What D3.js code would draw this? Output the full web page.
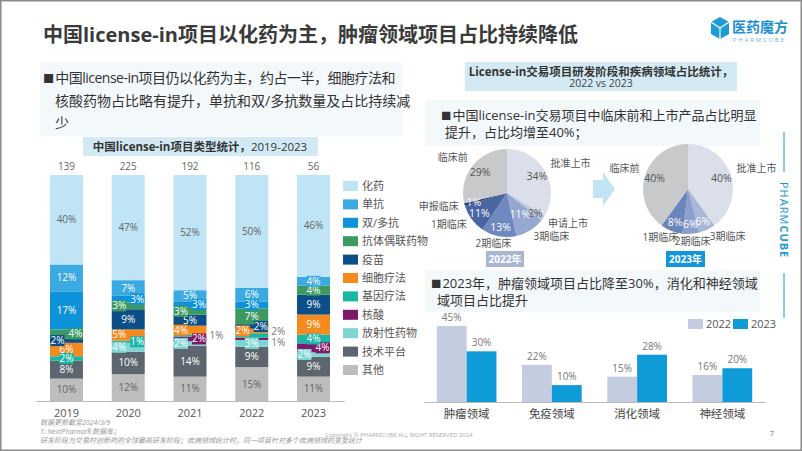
<!DOCTYPE html>
<html><head><meta charset="utf-8">
<script src="https://cdn.jsdelivr.net/npm/d3@7"></script>
<style>
body{margin:0;background:#fff}
svg{display:block}
text{font-family:"Open Sans","Noto Sans CJK SC",sans-serif}
</style></head>
<body><svg id="c" width="802" height="451"></svg>
<script>
// ---------------- DATA ----------------
const years = ["2019","2020","2021","2022","2023"];
const totals = [139,225,192,116,56];
const categories = ["化药","单抗","双/多抗","抗体偶联药物","疫苗","细胞疗法","基因疗法","核酸","放射性药物","技术平台","其他"];
const smallMolecule = [40,47,52,50,46];
const mAb          = [12,7,5,6,4];
const biMulti      = [17,3,3,3,0];
const adc          = [4,3,3,7,4];
const vaccine      = [2,9,5,2,9];
const cellTherapy  = [6,5,4,2,9];
const geneTherapy  = [2,1,1,2,4];
const nucleicAcid  = [0,0,2,1,4];
const radiopharma  = [0,4,2,3,2];
const techPlatform = [8,10,14,9,9];
const otherType    = [10,12,11,15,11];

const stages2022 = ["批准上市","申请上市","3期临床","2期临床","1期临床","申报临床","临床前"];
const values2022 = [34,2,11,13,11,1,29];
const stages2023 = ["批准上市","3期临床","2期临床","1期临床","临床前"];
const values2023 = [40,6,6,8,40];

const domains = ["肿瘤领域","免疫领域","消化领域","神经领域"];
const share2022 = [45,22,15,16];
const share2023 = [30,10,28,20];

// ---------------- STYLE / LAYOUT ----------------
const catColor = {"化药":"#BFE4F5","单抗":"#3BAAE3","双/多抗":"#0E92DA","抗体偶联药物":"#3C9A5F","疫苗":"#0C4E87",
  "细胞疗法":"#F58A1F","基因疗法":"#19B5A5","核酸":"#80186A","放射性药物":"#7ED6D3","技术平台":"#5D656E","其他":"#BDBDBD"};
const labelPlace = {
  "2019|抗体偶联药物":"r","2019|疫苗":"l",
  "2020|双/多抗":"r","2020|抗体偶联药物":"l","2020|细胞疗法":"l","2020|基因疗法":"r","2020|放射性药物":"l",
  "2021|双/多抗":"r","2021|抗体偶联药物":"l","2021|细胞疗法":"l","2021|基因疗法":"o","2021|核酸":"r","2021|放射性药物":"l",
  "2022|疫苗":"r","2022|细胞疗法":"l","2022|基因疗法":"ou","2022|核酸":"od",
  "2023|核酸":"r","2023|放射性药物":"l"
};
const stageColor = {"批准上市":"#DADFEA","申请上市":"#BCC7DE","3期临床":"#95A8D0","2期临床":"#7088C0","1期临床":"#4A66A2","申报临床":"#263C6E","临床前":"#C7C9CB"};
const stageColor23 = {"批准上市":"#DADFEA","3期临床":"#A9B7D6","2期临床":"#8A9FCB","1期临床":"#6A84BC","临床前":"#C7C9CB"};
const lightStages = new Set(["批准上市","临床前","申请上市"]);

const svg = d3.select("#c");
svg.append("rect").attr("width",802).attr("height",451).attr("fill","#fff");

// faint panels
[[40,62,362,74],[425,100,335,46],[425,270,335,42]].forEach(b=>{
  svg.append("rect").attr("x",b[0]).attr("y",b[1]).attr("width",b[2]).attr("height",b[3]).attr("fill","#F3F8FB");
});

// title
svg.append("text").attr("x",43).attr("y",42).attr("font-size",20).attr("font-weight",700)
  .attr("fill","#3a3a3a").text("中国license-in项目以化药为主，肿瘤领域项目占比持续降低");

// logo
const logo = svg.append("g");
logo.append("path").attr("d","M720,17 L729,22 L729,34 L720,39 L711,34 L711,22 Z").attr("fill","#1E9BD7");
logo.append("path").attr("d","M720,28 L729,22 M720,28 L711,22 M720,28 L720,39").attr("stroke","#fff").attr("stroke-width",1.2).attr("fill","none");
logo.append("text").attr("x",732).attr("y",32).attr("font-size",14).attr("font-weight",700).attr("fill","#1E8FCF").text("医药魔方");
logo.append("text").attr("x",733).attr("y",42).attr("font-size",5.5).attr("letter-spacing",2.2).attr("fill","#6aaed6").text("PHARMCUBE");

// bullet text helper
function bullet(x, y, lines, fs, dy, x2, ls0){
  lines.forEach((ln,i)=>{
    const t = svg.append("text").attr("x", i===0? x : x2).attr("y", y+i*dy).attr("font-size",fs).attr("fill","#333");
    if(i===0){
      t.append("tspan").attr("font-size",fs*0.8).text("■");
      t.append("tspan").attr("dx",1).attr("letter-spacing",ls0||0).text(ln);
    } else t.text(ln);
  });
}
bullet(43,83,["中国license-in项目仍以化药为主，约占一半，细胞疗法和","核酸药物占比略有提升，单抗和双/多抗数量及占比持续减","少"],14,22.5,55,-0.5);
bullet(441,120,["中国license-in交易项目中临床前和上市产品占比明显","提升，占比均增至40%；"],13,17,445);
bullet(431,288,["2023年，肿瘤领域项目占比降至30%，消化和神经领域","域项目占比提升"],13,17,437);

// subtitle boxes
svg.append("rect").attr("x",83).attr("y",137).attr("width",235).attr("height",19).attr("fill","#D3EAF5");
const st1 = svg.append("text").attr("x",200).attr("y",151).attr("text-anchor","middle").attr("font-size",11.5).attr("fill","#333");
st1.append("tspan").attr("font-weight",700).text("中国license-in项目类型统计，");
st1.append("tspan").text("2019-2023");
svg.append("rect").attr("x",465).attr("y",62).attr("width",272).attr("height",29).attr("fill","#D3EAF5");
svg.append("text").attr("x",601).attr("y",75.5).attr("text-anchor","middle").attr("font-size",11.5).attr("font-weight",700).attr("fill","#333").text("License-in交易项目研发阶段和疾病领域占比统计，");
svg.append("text").attr("x",601).attr("y",87).attr("text-anchor","middle").attr("font-size",10.5).attr("fill","#444").text("2022 vs 2023");

// ---------------- STACKED BAR (left) ----------------
const seriesValues = [smallMolecule,mAb,biMulti,adc,vaccine,cellTherapy,geneTherapy,nucleicAcid,radiopharma,techPlatform,otherType];
const rows = years.map((y,i)=>{const r={year:y}; categories.forEach((c,j)=>r[c]=seriesValues[j][i]); return r;});
const stacked = d3.stack().keys(categories.slice().reverse()).offset(d3.stackOffsetExpand)(rows);
const xB = d3.scaleBand().domain(years).range([35.6,344.4]).paddingInner(0.466).paddingOuter(0.233);
const yB = d3.scaleLinear().domain([0,1]).range([401,175]);
const gL = svg.append("g");
stacked.forEach(s=>{
  gL.selectAll(null).data(s).join("rect")
    .attr("x",d=>xB(d.data.year)).attr("width",xB.bandwidth())
    .attr("y",d=>yB(d[1])).attr("height",d=>yB(d[0])-yB(d[1]))
    .attr("fill",catColor[s.key]);
});
// labels
const lab = svg.append("g").attr("font-size",10);
stacked.forEach(s=>{
  s.forEach(d=>{
    const v = d.data[s.key]; if(!v) return;
    const key = d.data.year+"|"+s.key;
    const mode = labelPlace[key] || "c";
    const cx = xB(d.data.year)+xB.bandwidth()/2;
    let y = (yB(d[0])+yB(d[1]))/2;
    const h = yB(d[0])-yB(d[1]);
    const txt = v+"%";
    if(mode[0]==="o"){
      if(mode==="ou") y-=3.5; if(mode==="od") y+=3.5;
      lab.append("text").attr("x",xB(d.data.year)+xB.bandwidth()+3).attr("y",y+3.5).attr("fill","#777").text(txt);
      return;
    }
    const x = cx + (mode==="l"?-9:mode==="r"?9:0);
    if(h<11){
      const w = txt.length*6+2;
      lab.append("rect").attr("x",x-w/2).attr("y",y-5.5).attr("width",w).attr("height",11).attr("fill",catColor[s.key]);
    }
    const dark = (s.key==="化药"||s.key==="其他");
    lab.append("text").attr("x",x).attr("y",y+3.5).attr("text-anchor","middle")
      .attr("fill",dark?"#666":"#fff").text(txt);
  });
});
// totals
svg.append("g").selectAll("text").data(years).join("text")
  .attr("x",d=>xB(d)+xB.bandwidth()/2).attr("y",170).attr("text-anchor","middle").attr("font-size",10).attr("fill","#666")
  .text((d,i)=>totals[i]);
// axis
const axL = svg.append("g").attr("transform","translate(0,401)").call(d3.axisBottom(xB).tickSize(0).tickPadding(8));
axL.select(".domain").attr("stroke","#bbb");
axL.selectAll("text").attr("font-size",11).attr("fill","#555").attr("font-family","Open Sans, sans-serif");
// legend
const lg = svg.append("g");
categories.forEach((c,i)=>{
  const y = 186 + i*18.4;
  lg.append("rect").attr("x",343).attr("y",y-5).attr("width",15).attr("height",10).attr("fill",catColor[c]);
  lg.append("text").attr("x",362).attr("y",y+4).attr("font-size",11).attr("fill","#555").text(c);
});

// ---------------- PIES ----------------
function drawPie(cx, cy, r, labels, values, colors, year){
  const data = labels.map((l,i)=>({label:l, v:values[i]}));
  const arcs = d3.pie().sort(null).value(d=>d.v)(data);
  const arc = d3.arc().innerRadius(0).outerRadius(r);
  const g = svg.append("g").attr("transform",`translate(${cx},${cy})`);
  g.selectAll("path").data(arcs).join("path").attr("d",arc).attr("fill",d=>colors[d.data.label]);
  arcs.forEach(a=>{
    const m = (a.startAngle+a.endAngle)/2;
    const s = Math.sin(m), c = Math.cos(m);
    const f = (year==="2022" && a.data.label==="3期临床") ? 0.55 : 0.78;
    g.append("text").attr("x",s*r*f).attr("y",-c*r*f+4)
      .attr("text-anchor","middle").attr("font-size",10.5)
      .attr("fill", lightStages.has(a.data.label)?"#555":"#fff").text(a.data.v+"%");
    const ro = r+6;
    const anchor = s>0.4 ? "start" : s<-0.4 ? "end" : "middle";
    const dyO = c<-0.5 ? 5 : c>0.3 ? -1 : 3.5;
    const xO = anchor==="middle" ? s*(r+30) : s*ro;
    g.append("text").attr("x",xO).attr("y",-c*ro+dyO)
      .attr("text-anchor",anchor).attr("font-size",10).attr("fill","#555").text(a.data.label);
  });
}
drawPie(507,193,44,stages2022,values2022,stageColor,"2022");
drawPie(688,189,45,stages2023,values2023,stageColor23,"2023");
// year tags
svg.append("rect").attr("x",486).attr("y",251).attr("width",38).attr("height",16).attr("fill","#A9B6D3");
svg.append("text").attr("x",505).attr("y",263).attr("text-anchor","middle").attr("font-size",10).attr("font-weight",700).attr("fill","#fff").text("2022年");
svg.append("rect").attr("x",666).attr("y",251).attr("width",39).attr("height",16).attr("fill","#1296DB");
svg.append("text").attr("x",685.5).attr("y",263).attr("text-anchor","middle").attr("font-size",10).attr("font-weight",700).attr("fill","#fff").text("2023年");
// arrow
svg.append("path").attr("d","M593,180 L603,180 L603,172 L615,189 L603,206 L603,198 L593,198 Z").attr("fill","#C3E4F3");

// ---------------- GROUPED BAR (right bottom) ----------------
const x0 = d3.scaleBand().domain(domains).range([424,765]).paddingInner(0.3).paddingOuter(0.15);
const x1 = d3.scaleBand().domain(["2022","2023"]).range([0,x0.bandwidth()]);
const yR = d3.scaleLinear().domain([0,45]).range([402,326]);
const barColor = {"2022":"#C4CCE0","2023":"#0F9BD7"};
const gR = svg.append("g");
domains.forEach((d,i)=>{
  [["2022",share2022[i]],["2023",share2023[i]]].forEach(([yr,v])=>{
    gR.append("rect").attr("x",x0(d)+x1(yr)).attr("width",x1.bandwidth()).attr("y",yR(v)).attr("height",yR(0)-yR(v)).attr("fill",barColor[yr]);
    gR.append("text").attr("x",x0(d)+x1(yr)+x1.bandwidth()/2).attr("y",yR(v)-5).attr("text-anchor","middle")
      .attr("font-size",10).attr("fill","#777").text(v+"%");
  });
});
const axR = svg.append("g").attr("transform","translate(0,402)").call(d3.axisBottom(x0).tickSize(0).tickPadding(8));
axR.select(".domain").attr("stroke","#bbb");
axR.selectAll("text").attr("font-size",11.5).attr("fill","#444").attr("font-family","Noto Sans CJK SC, sans-serif");
// legend
[["2022",688,706],["2023",733,751]].forEach(([yr,rx,tx])=>{
  svg.append("rect").attr("x",rx).attr("y",319).attr("width",15).attr("height",10).attr("fill",barColor[yr]);
  svg.append("text").attr("x",tx).attr("y",328).attr("font-size",11).attr("fill","#555").text(yr);
});

// ---------------- SIDE BRAND ----------------
svg.append("line").attr("x1",784).attr("x2",784).attr("y1",132).attr("y2",172).attr("stroke","#1B9AD6");
svg.append("line").attr("x1",784).attr("x2",784).attr("y1",273).attr("y2",318).attr("stroke","#1B9AD6");
const side = svg.append("text").attr("transform","translate(780,182) rotate(90)").attr("font-size",11).attr("letter-spacing",1).attr("fill","#1B9AD6");
side.append("tspan").text("PHARM");
side.append("tspan").attr("font-weight",700).text("CUBE");

// ---------------- FOOTER ----------------
const foot = svg.append("g").attr("font-size",7).attr("fill","#999").attr("font-style","italic");
foot.append("text").attr("x",40).attr("y",425).text("数据更新截至2024/3/9");
foot.append("text").attr("x",40).attr("y",434).text("1:   NextPharma®数据库；");
foot.append("text").attr("x",40).attr("y",443).text("研发阶段为交易时创新药的全球最高研发阶段；疾病领域统计时，同一项目针对多个疾病领域的重复统计");
svg.append("text").attr("x",325).attr("y",437).attr("font-size",6).attr("fill","#aaa").text("Copyright © PHARMCUBE ALL RIGHT RESERVED 2024");
svg.append("text").attr("x",770).attr("y",436).attr("font-size",7).attr("fill","#666").text("7");

// frame
svg.append("rect").attr("x",0.75).attr("y",0.75).attr("width",800.5).attr("height",449.5).attr("fill","none").attr("stroke","#8a8a8a").attr("stroke-width",1.5);
</script></body></html>
